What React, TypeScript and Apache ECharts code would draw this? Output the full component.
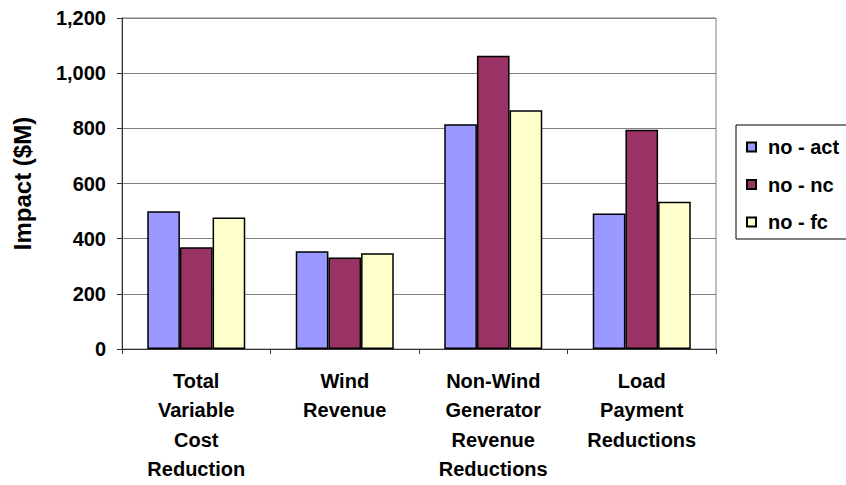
import React, { useEffect, useRef } from "react";
import * as echarts from "echarts";

const categories = [
  "Total\nVariable\nCost\nReduction",
  "Wind\nRevenue",
  "Non-Wind\nGenerator\nRevenue\nReductions",
  "Load\nPayment\nReductions",
];
const seriesNames = ["no - act", "no - nc", "no - fc"];
const noAct = [499, 354, 815, 491];
const noNc = [369, 332, 1063, 795];
const noFc = [477, 347, 866, 534];
const colors = ["#9999FF", "#993366", "#FFFFCC"];
const yTicks = { min: 0, max: 1200, interval: 200 };

const FONT = "'Liberation Sans', Arial, sans-serif";

export default function App() {
  const ref = useRef<HTMLDivElement>(null);
  useEffect(() => {
    if (!ref.current) return;
    const chart = echarts.init(ref.current, undefined, { renderer: "svg" });
    const data = [noAct, noNc, noFc];
    chart.setOption({
      animation: false,
      backgroundColor: "#ffffff",
      textStyle: { fontFamily: FONT },
      grid: {
        left: 122,
        right: 130,
        top: 18,
        bottom: 136,
        show: true,
        borderColor: "#808080",
        borderWidth: 1,
        backgroundColor: "#ffffff",
      },
      legend: {
        orient: "vertical",
        left: 736,
        top: 125,
        padding: [12, 60, 7, 10],
        itemWidth: 9,
        itemHeight: 9,
        itemGap: 17.5,
        borderColor: "#000000",
        borderWidth: 1,
        backgroundColor: "#ffffff",
        icon: "rect",
        textStyle: {
          fontFamily: FONT,
          fontWeight: "bold",
          fontSize: 20,
          lineHeight: 20,
          color: "#000000",
          padding: [0, 0, 0, 7],
        },
        data: seriesNames,
      },
      xAxis: {
        type: "category",
        data: categories,
        axisLine: { show: true, lineStyle: { color: "#333333", width: 1 } },
        axisTick: { show: true, length: 5, lineStyle: { color: "#333333" } },
        axisLabel: {
          interval: 0,
          margin: 17,
          fontFamily: FONT,
          fontWeight: "bold",
          fontSize: 20,
          lineHeight: 29.5,
          color: "#000000",
          align: "center",
        },
        splitLine: { show: false },
      },
      yAxis: {
        type: "value",
        min: yTicks.min,
        max: yTicks.max,
        interval: yTicks.interval,
        name: "Impact ($M)",
        nameLocation: "middle",
        nameRotate: 90,
        nameGap: 88,
        nameTextStyle: {
          fontFamily: FONT,
          fontWeight: "bold",
          fontSize: 24,
          color: "#000000",
        },
        axisLine: { show: true, lineStyle: { color: "#333333", width: 1 } },
        axisTick: { show: true, length: 5, lineStyle: { color: "#333333" } },
        axisLabel: {
          margin: 16,
          fontFamily: FONT,
          fontWeight: "bold",
          fontSize: 20,
          color: "#000000",
          formatter: (v: number) => v.toLocaleString("en-US"),
        },
        splitLine: { show: true, lineStyle: { color: "#808080", width: 1 } },
      },
      series: seriesNames.map((name, i) => ({
        name,
        type: "bar",
        data: data[i],
        barGap: "0%",
        barCategoryGap: "34%",
        itemStyle: {
          color: colors[i],
          borderColor: "#000000",
          borderWidth: 1.5,
        },
      })),
    });
    return () => chart.dispose();
  }, []);
  return (
    <div
      ref={ref}
      style={{ position: "fixed", left: 0, top: 0, width: 846, height: 485 }}
    />
  );
}
